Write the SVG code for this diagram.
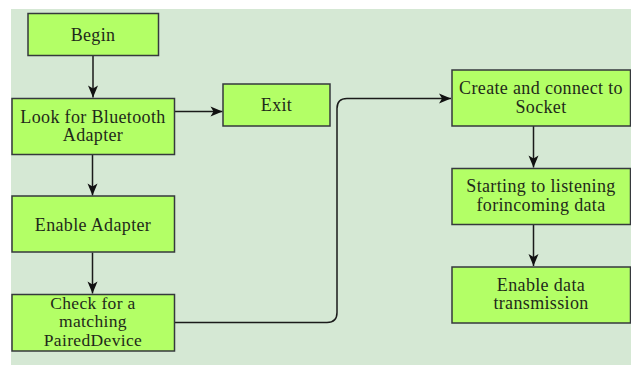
<svg xmlns="http://www.w3.org/2000/svg" width="631" height="365" viewBox="0 0 631 365">
<defs>
<style>
.bg{fill:#d5e8d4}
.box{fill:#b3ff66;stroke:#36393d;stroke-width:1.5}
text{font-family:'Liberation Serif','Times New Roman',serif;font-size:18px;letter-spacing:0.35px;fill:#1f2a1a;text-anchor:middle}
.sm{font-size:17.5px}
.edge{fill:none;stroke:#1a1a1a;stroke-width:1.5}
</style>
<marker id="arr" markerUnits="userSpaceOnUse" markerWidth="14" markerHeight="12" viewBox="-13 -6 14 12" refX="0" refY="0" orient="auto">
<path d="M0,0 L-12,-5 L-9,0 L-12,5 Z" fill="#111"/>
</marker>
</defs>
<rect class="bg" x="11" y="9" width="620" height="356"/>
<g id="connectors">
<path class="edge" d="M93,56 V97.5" marker-end="url(#arr)"/>
<path class="edge" d="M174,111.5 H222.5" marker-end="url(#arr)"/>
<path class="edge" d="M92.5,154.5 V195.5" marker-end="url(#arr)"/>
<path class="edge" d="M92.5,252.5 V293.5" marker-end="url(#arr)"/>
<path class="edge" d="M174,322.5 H327 Q337,322.5 337,312.5 V108.5 Q337,98.5 347,98.5 H451" marker-end="url(#arr)"/>
<path class="edge" d="M533.5,126 V167.5" marker-end="url(#arr)"/>
<path class="edge" d="M533.5,224.5 V266" marker-end="url(#arr)"/>
</g>
<g id="begin">
<rect class="box" x="28" y="13.5" width="130.5" height="42"/>
<text x="93" y="40.5">Begin</text>
</g>
<g id="look">
<rect class="box" x="12" y="98.5" width="162.5" height="56"/>
<text x="93" y="122.5">Look for Bluetooth</text>
<text x="93" y="141">Adapter</text>
</g>
<g id="exit">
<rect class="box" x="223" y="84" width="107" height="42"/>
<text x="276.5" y="111.3">Exit</text>
</g>
<g id="enable-adapter">
<rect class="box" x="12" y="196" width="162.5" height="56"/>
<text x="93" y="230.5">Enable Adapter</text>
</g>
<g id="check">
<rect class="box" x="12" y="294.5" width="162.5" height="56.5"/>
<text class="sm" x="93" y="308.5">Check for a</text>
<text class="sm" x="93" y="327">matching</text>
<text class="sm" x="93" y="345.5">PairedDevice</text>
</g>
<g id="create">
<rect class="box" x="452" y="70" width="178.5" height="56"/>
<text x="541" y="94.3">Create and connect to</text>
<text x="541" y="113.3">Socket</text>
</g>
<g id="listen">
<rect class="box" x="452" y="168.5" width="178.5" height="56"/>
<text x="541" y="192.3">Starting to listening</text>
<text x="541" y="210.7">forincoming data</text>
</g>
<g id="transmit">
<rect class="box" x="452" y="267" width="178.5" height="56"/>
<text x="541" y="290.7">Enable data</text>
<text x="541" y="309.3">transmission</text>
</g>
</svg>
